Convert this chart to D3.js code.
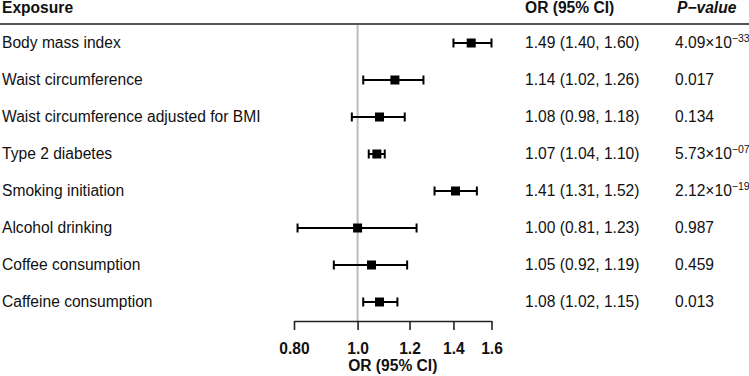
<!DOCTYPE html>
<html>
<head>
<meta charset="utf-8">
<script src="https://cdn.jsdelivr.net/npm/d3@7"></script>
<style>
  body { margin: 0; background: #fff; }
  text { font-family: "Liberation Sans", Arial, sans-serif; fill: #111; }
</style>
</head>
<body>
<script>
// Data
var exposures = ["Body mass index", "Waist circumference", "Waist circumference adjusted for BMI",
  "Type 2 diabetes", "Smoking initiation", "Alcohol drinking", "Coffee consumption", "Caffeine consumption"];
var or = [1.49, 1.14, 1.08, 1.07, 1.41, 1.00, 1.05, 1.08];
var lower = [1.40, 1.02, 0.98, 1.04, 1.31, 0.81, 0.92, 1.02];
var upper = [1.60, 1.26, 1.18, 1.10, 1.52, 1.23, 1.19, 1.15];
var pBase = ["4.09×10", "0.017", "0.134", "5.73×10", "2.12×10", "0.987", "0.459", "0.013"];
var pExp = ["−33", null, null, "−07", "−19", null, null, null];
var tickValues = [0.8, 1.0, 1.2, 1.4, 1.6];
var tickLabels = ["0.80", "1.0", "1.2", "1.4", "1.6"];

var W = 749, H = 376;
var fs = "15.6px";
var svg = d3.select("body").append("svg")
    .attr("width", W)
    .attr("height", H);

var fmt = d3.format(".2f");

// log scale for odds ratios
var x = d3.scaleLog()
    .domain([0.8, 1.6])
    .range([294, 491.5]);

var y = d3.scaleBand()
    .domain(d3.range(exposures.length))
    .range([25, 321])
    .paddingOuter(0);

var rowY = function(i) { return y(i) + y.bandwidth() / 2 - 0.5; };

// header
svg.append("text").attr("x", 2).attr("y", 13)
  .style("font-size", fs).style("font-weight", "bold").text("Exposure");
svg.append("text").attr("x", 525).attr("y", 13)
  .style("font-size", fs).style("font-weight", "bold").text("OR (95% CI)");
svg.append("text").attr("x", 677).attr("y", 13)
  .style("font-size", fs).style("font-weight", "bold").style("font-style", "italic").text("P−value");

svg.append("line")
  .attr("x1", 0).attr("x2", 749)
  .attr("y1", 24).attr("y2", 24)
  .attr("stroke", "#555").attr("stroke-width", 2);

// reference line at OR = 1
svg.append("line")
  .attr("x1", x(1)).attr("x2", x(1))
  .attr("y1", 25).attr("y2", 321)
  .attr("stroke", "#bdbdbd").attr("stroke-width", 2);

var rows = svg.selectAll(".row").data(exposures).enter()
  .append("g")
    .attr("class", "row")
    .attr("transform", function(d, i) { return "translate(0," + rowY(i) + ")"; });

rows.append("text")
  .attr("x", 2).attr("dy", "0.35em")
  .style("font-size", fs)
  .text(function(d) { return d; });

rows.append("text")
  .attr("x", 525).attr("dy", "0.35em")
  .style("font-size", fs)
  .text(function(d, i) { return fmt(or[i]) + " (" + fmt(lower[i]) + ", " + fmt(upper[i]) + ")"; });

var pt = rows.append("text")
  .attr("x", 675).attr("dy", "0.35em")
  .style("font-size", fs);
pt.append("tspan").text(function(d, i) { return pBase[i]; });
pt.append("tspan")
  .attr("dy", -6)
  .style("font-size", "10.5px")
  .text(function(d, i) { return pExp[i] || ""; });

// CI whiskers
rows.append("line")
  .attr("x1", function(d, i) { return x(lower[i]); })
  .attr("x2", function(d, i) { return x(upper[i]); })
  .attr("stroke", "#000").attr("stroke-width", 2);

[lower, upper].forEach(function(arr) {
  rows.append("line")
    .attr("x1", function(d, i) { return x(arr[i]); })
    .attr("x2", function(d, i) { return x(arr[i]); })
    .attr("y1", -4.5).attr("y2", 4.5)
    .attr("stroke", "#000").attr("stroke-width", 2);
});

rows.append("rect")
  .attr("x", function(d, i) { return x(or[i]) - 4.5; })
  .attr("y", -4.5)
  .attr("width", 9).attr("height", 9)
  .attr("fill", "#000");

// x axis
var axis = svg.append("g")
  .attr("transform", "translate(0,321)")
  .call(d3.axisBottom(x)
    .tickValues(tickValues)
    .tickFormat(function(d, i) { return tickLabels[i]; })
    .tickSize(9)
    .tickSizeOuter(0)
    .tickPadding(13));

axis.select(".domain").attr("stroke", "#222").attr("stroke-width", 1.6);
axis.selectAll(".tick line").attr("stroke", "#222").attr("stroke-width", 1.6);
axis.selectAll(".tick text")
  .style("font-family", "'Liberation Sans', Arial, sans-serif")
  .style("font-size", fs)
  .style("font-weight", "bold")
  .attr("fill", "#111");

svg.append("text")
  .attr("x", (x(0.8) + x(1.6)) / 2)
  .attr("y", 371)
  .attr("text-anchor", "middle")
  .style("font-size", fs)
  .style("font-weight", "bold")
  .text("OR (95% CI)");
</script>
</body>
</html>
